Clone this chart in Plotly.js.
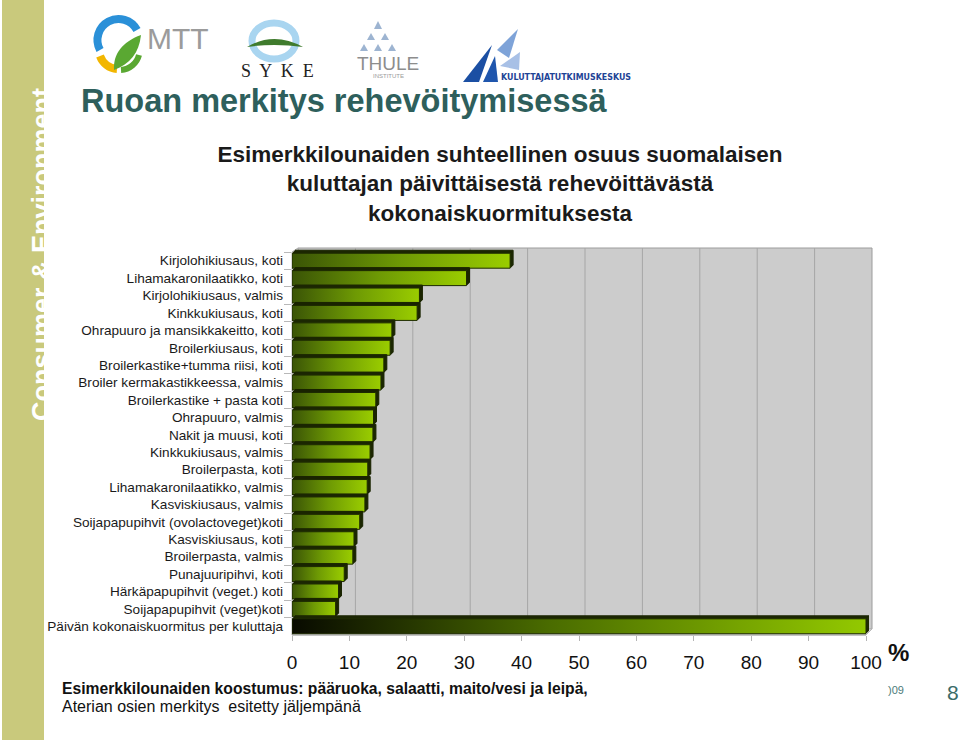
<!DOCTYPE html>
<html><head><meta charset="utf-8">
<script src="https://cdn.plot.ly/plotly-3.0.1.min.js"></script>
<style>html,body{margin:0;padding:0;background:#fff;overflow:hidden}</style>
</head><body><div id="chart" style="width:960px;height:740px"></div>
<script>
// ---- data ----
const categories = [
  "Kirjolohikiusaus, koti",
  "Lihamakaronilaatikko, koti",
  "Kirjolohikiusaus, valmis",
  "Kinkkukiusaus, koti",
  "Ohrapuuro ja mansikkakeitto, koti",
  "Broilerkiusaus, koti",
  "Broilerkastike+tumma riisi, koti",
  "Broiler kermakastikkeessa, valmis",
  "Broilerkastike + pasta koti",
  "Ohrapuuro, valmis",
  "Nakit ja muusi, koti",
  "Kinkkukiusaus, valmis",
  "Broilerpasta, koti",
  "Lihamakaronilaatikko, valmis",
  "Kasviskiusaus, valmis",
  "Soijapapupihvit (ovolactoveget)koti",
  "Kasviskiusaus, koti",
  "Broilerpasta, valmis",
  "Punajuuripihvi, koti",
  "Härkäpapupihvit (veget.) koti",
  "Soijapapupihvit (veget)koti",
  "Päivän kokonaiskuormitus per kuluttaja"
];
const values = [38.0, 30.4, 22.2, 21.8, 17.4, 17.1, 16.0, 15.5, 14.6, 14.2, 14.1,
                13.6, 13.2, 13.1, 12.7, 11.8, 10.8, 10.6, 9.1, 8.1, 7.6, 100];
const xTicks = [0, 10, 20, 30, 40, 50, 60, 70, 80, 90, 100];
const xTickLabels = ["0", "10", "20", "30", "40", "50", "60", "70", "80", "90", "100"];
const gridValues = [10, 20, 30, 40, 50, 60, 70, 80, 90];

// ---- layout helpers (page pixel -> paper) ----
const L = 292, R = 866, T = 252, B = 635;
const px = x => (x - L) / (R - L);
const py = y => (B - y) / (B - T);
const FONT = "Liberation Sans, Arial, sans-serif";

function ann(text, x, y, o) {
  o = o || {};
  return Object.assign({
    text: text, xref: "paper", yref: "paper", x: px(x), y: py(y),
    xanchor: o.xa || "center", yanchor: o.ya || "middle", showarrow: false,
    font: Object.assign({family: FONT, size: 14, color: "#111"}, o.font || {}),
    textangle: o.angle || 0
  }, o.extra || {});
}

const annotations = [
  ann("<b>Consumer & Environment</b>", 42, 255, {angle: -90, font: {size: 27, color: "#ffffff"}}),
  ann("<b>Ruoan merkitys rehevöitymisessä</b>", 79, 101, {xa: "left", font: {size: 32.5, color: "#2e5f5c"}}),
  ann("MTT", 145, 38, {xa: "left", font: {size: 30, color: "#9b9b9b"}}),
  ann("S  Y  K  E", 277, 71, {font: {size: 18, color: "#222", family: "Liberation Serif, DejaVu Serif, serif"}}),
  ann("THULE", 388, 63, {font: {size: 19, color: "#8d8d8d"}}),
  ann("INSTITUTE", 388, 76, {font: {size: 6, color: "#9a9a9a"}}),
  ann("<b>KULUTTAJATUTKIMUSKESKUS</b>", 499, 77, {xa: "left",
      font: {size: 8.8, color: "#1f4496", family: "Liberation Sans Narrow, DejaVu Sans Condensed, Liberation Sans, sans-serif"}}),
  ann("<b>%</b>", 898, 652, {font: {size: 24, color: "#111"}}),
  ann("<b>Esimerkkilounaiden koostumus: pääruoka, salaatti, maito/vesi ja leipä,</b>", 60, 688, {xa: "left", font: {size: 15.7}}),
  ann("Aterian osien merkitys  esitetty jäljempänä", 60, 706, {xa: "left", font: {size: 16}}),
  ann(")09", 896, 690, {font: {size: 11, color: "#4b7c79"}}),
  ann("8", 953, 692, {font: {size: 21, color: "#3b6b68"}})
];

const shapes = [
  // left decorative band
  {type: "rect", xref: "paper", yref: "paper", x0: px(2), x1: px(44), y0: py(0), y1: py(740),
   fillcolor: "#c9c97c", line: {width: 0}, layer: "below"},
  // back wall
  {type: "rect", xref: "paper", yref: "paper", x0: px(298), x1: px(872), y0: py(629), y1: py(248),
   fillcolor: "#cccccc", line: {color: "#9c9c9c", width: 1}, layer: "below"},
  // left wall
  {type: "path", xref: "paper", yref: "paper",
   path: `M ${px(292)},${py(252)} L ${px(298)},${py(248)} L ${px(298)},${py(629)} L ${px(292)},${py(635)} Z`,
   fillcolor: "#e4e4e4", line: {color: "#b0b0b0", width: 1}, layer: "below"},
  // floor
  {type: "path", xref: "paper", yref: "paper",
   path: `M ${px(292)},${py(635)} L ${px(298)},${py(629)} L ${px(872)},${py(629)} L ${px(866)},${py(635)} Z`,
   fillcolor: "#dedede", line: {color: "#b8b8b8", width: 1}, layer: "below"}
];
gridValues.forEach(v => shapes.push({
  type: "line", xref: "x", xsizemode: "pixel", xanchor: v, x0: 6, x1: 6,
  yref: "paper", y0: py(629), y1: py(248), line: {color: "#a6a6a6", width: 1}, layer: "below"
}));

// logo graphics (decorative only)
const logoSvg = `<svg xmlns='http://www.w3.org/2000/svg' width='540' height='80' viewBox='90 10 540 80'>
<path d='M100,50 A20,20 0 0 1 137,30' fill='none' stroke='#2a90d8' stroke-width='8'/>
<path d='M100,56 A20,20 0 0 0 117,69' fill='none' stroke='#f2b600' stroke-width='8'/>
<path d='M121,70 A20,20 0 0 0 139,55' fill='none' stroke='#5aa832' stroke-width='6'/>
<path d='M114,70 C113,54 122,42 141,35 C139,53 130,64 114,70 Z' fill='#5aa832'/>
<ellipse cx='274' cy='41' rx='22' ry='18' fill='none' stroke='#a9d5f0' stroke-width='7'/>
<path d='M247,47 Q274,31 303,47 Q274,43 247,47 Z' fill='#3f7b2d'/>
<g fill='#9db4d1'>
<path d='M378,21 L382,29 L374,29 Z'/>
<path d='M371,33 L375,40 L367,40 Z'/><path d='M385,33 L389,40 L381,40 Z'/>
<path d='M364,44 L368,51 L360,51 Z'/><path d='M378,44 L382,51 L374,51 Z'/><path d='M392,44 L396,51 L388,51 Z'/>
</g>
<path d='M463,82 L492,45 L479,82 Z' fill='#1b4fa3'/>
<path d='M483,82 L495,56 L498,82 Z' fill='#1f56ad'/>
<path d='M497,50 L518,29 L509,58 Z' fill='#7ea3d8'/>
<path d='M500,66 L520,52 L519,70 Z' fill='#a8c0e6'/>
</svg>`;
const images = [{
  source: "data:image/svg+xml;charset=utf-8," + encodeURIComponent(logoSvg),
  xref: "paper", yref: "paper", x: px(90), y: py(10), sizex: 540 / (R - L), sizey: 80 / (B - T),
  xanchor: "left", yanchor: "top", sizing: "stretch", layer: "above"
}];

const data = [{
  type: "bar", orientation: "h", y: categories, x: values,
  marker: {color: "#8fc400", line: {color: "#1d2a00", width: 1}},
  hoverinfo: "none", cliponaxis: false
}];

const layout = {
  width: 960, height: 740,
  margin: {l: L, r: 960 - R, t: T, b: 740 - B, pad: 0},
  paper_bgcolor: "#ffffff", plot_bgcolor: "rgba(0,0,0,0)",
  showlegend: false, bargap: 0.14,
  font: {family: FONT, color: "#111"},
  title: {
    text: "<b>Esimerkkilounaiden suhteellinen osuus suomalaisen<br>kuluttajan päivittäisestä rehevöittävästä<br>kokonaiskuormituksesta</b>",
    xref: "container", yref: "container", x: 500 / 960, xanchor: "center",
    y: 1 - 162 / 740, yanchor: "top",
    font: {family: FONT, size: 22.5, color: "#1a1a1a"}
  },
  xaxis: {
    range: [0, 100], tickvals: xTicks, ticktext: xTickLabels,
    ticks: "outside", ticklen: 5, tickcolor: "#b5b5b5",
    showgrid: false, zeroline: false, showline: true, linecolor: "#c4c4c4",
    tickfont: {size: 19, color: "#111"}, ticklabelstandoff: 5, fixedrange: true
  },
  yaxis: {
    type: "category", categoryorder: "array", categoryarray: categories,
    autorange: "reversed", tickson: "boundaries", ticks: "outside", ticklen: 7,
    tickcolor: "#b8b8b8", showgrid: false, zeroline: false, showline: false,
    tickfont: {size: 13.6, color: "#1a1a1a"}, ticklabelstandoff: 8, fixedrange: true
  },
  shapes: shapes, annotations: annotations, images: images
};

Plotly.newPlot("chart", data, layout, {staticPlot: true, displayModeBar: false}).then(gd => {
  const ns = "http://www.w3.org/2000/svg";
  const svg = gd.querySelector(".main-svg");
  let defs = svg.querySelector("defs");
  if (!defs) { defs = document.createElementNS(ns, "defs"); svg.insertBefore(defs, svg.firstChild); }
  function grad(id, stops) {
    const g = document.createElementNS(ns, "linearGradient");
    g.setAttribute("id", id); g.setAttribute("x1", "0"); g.setAttribute("x2", "1");
    g.setAttribute("y1", "0"); g.setAttribute("y2", "0");
    stops.forEach(s => {
      const st = document.createElementNS(ns, "stop");
      st.setAttribute("offset", s[0]); st.setAttribute("stop-color", s[1]);
      g.appendChild(st);
    });
    defs.appendChild(g);
  }
  grad("gBar", [[0, "#3a5406"], [0.5, "#6e9a04"], [1, "#9acd00"]]);
  grad("gTot", [[0, "#080a00"], [0.45, "#4a6c00"], [1, "#93c900"]]);
  const paths = gd.querySelectorAll(".barlayer .point path");
  paths.forEach((p, i) => {
    for (let k = 3; k >= 1; k--) {
      const c = p.cloneNode(true);
      c.style.fill = "#25330a"; c.style.stroke = "#1a2400";
      c.setAttribute("transform", `translate(${k},${-k})`);
      p.parentNode.insertBefore(c, p);
    }
    p.style.fill = `url(#${i === values.length - 1 ? "gTot" : "gBar"})`;
  });
});
</script>
</body></html>
